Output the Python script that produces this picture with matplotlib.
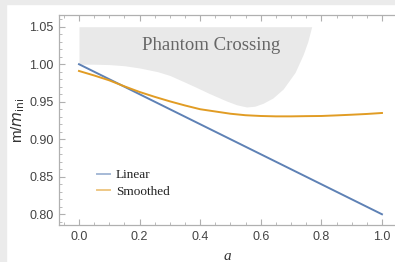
import matplotlib
matplotlib.use("Agg")
import matplotlib.pyplot as plt
from matplotlib.patches import Rectangle
from matplotlib.ticker import MultipleLocator, FormatStrFormatter

# Data
a_linear = [0.0, 1.0]
m_linear = [1.0, 0.8]

a_smooth = [0.0, 0.05, 0.1, 0.15, 0.2, 0.25, 0.3, 0.35, 0.4, 0.45, 0.5,
            0.55, 0.6, 0.65, 0.7, 0.75, 0.8, 0.85, 0.9, 0.95, 1.0]
m_smooth = [0.991, 0.985, 0.9785, 0.9705, 0.963, 0.9565, 0.9505, 0.945, 0.940,
            0.937, 0.934, 0.932, 0.931, 0.9305, 0.9305, 0.9308, 0.931,
            0.9318, 0.9327, 0.9337, 0.935]

a_phantom = [0.0, 0.05, 0.1, 0.15, 0.2, 0.26, 0.3, 0.35, 0.388, 0.43, 0.487,
             0.52, 0.553, 0.58, 0.608, 0.64, 0.674, 0.713, 0.74, 0.755, 0.768]
m_phantom_low = [1.0, 1.0, 0.9995, 0.998, 0.995, 0.990, 0.985, 0.976, 0.969,
                 0.961, 0.951, 0.946, 0.943, 0.944, 0.948, 0.955, 0.967,
                 0.989, 1.013, 1.03, 1.05]
m_phantom_top = 1.05

legend_labels = ["Linear", "Smoothed"]
region_label = "Phantom Crossing"

W, H = 395, 262
fig = plt.figure(figsize=(W / 100, H / 100), dpi=100)
fig.patch.set_facecolor("white")
fig.patches.append(Rectangle((0, 0), 6 / W, 1, transform=fig.transFigure,
                             color="#ebebeb", zorder=0))
fig.patches.append(Rectangle((0, 1 - 4 / H), 1, 4 / H, transform=fig.transFigure,
                             color="#ebebeb", zorder=0))

ax = fig.add_axes([59 / W, 37 / H, (W - 59) / W, 210 / H])
ax.set_xlim(-0.066, 1.043)
ax.set_ylim(0.7857, 1.0656)

ax.fill_between(a_phantom, m_phantom_low, m_phantom_top, color="#e9e9e9",
                lw=0, zorder=1)
ax.text(0.436, 1.0244, region_label, family="Liberation Serif", fontsize=13.5,
        color="#666666", ha="center", va="center", zorder=2)

blue = "#5E81B5"
orange = "#E19C24"
ax.plot(a_linear, m_linear, color=blue, lw=1.4, zorder=3, label=legend_labels[0])
ax.plot(a_smooth, m_smooth, color=orange, lw=1.4, zorder=3, label=legend_labels[1])

leg = ax.legend(loc="center left", bbox_to_anchor=(0.113, 0.198), frameon=False,
                borderpad=0, borderaxespad=0, handlelength=1.0,
                handletextpad=0.45, labelspacing=0.3,
                prop={"family": "Liberation Serif", "size": 9.5})
for lh in leg.get_lines():
    lh.set_alpha(0.55)
for t in leg.get_texts():
    t.set_color("#222222")

spine_c = "#b0b0b0"
for s in ["left", "bottom", "top"]:
    ax.spines[s].set_color(spine_c)
    ax.spines[s].set_linewidth(0.9)
ax.spines["right"].set_visible(False)

ax.xaxis.set_major_locator(MultipleLocator(0.2))
ax.xaxis.set_minor_locator(MultipleLocator(0.05))
ax.yaxis.set_major_locator(MultipleLocator(0.05))
ax.yaxis.set_minor_locator(MultipleLocator(0.01))
ax.xaxis.set_major_formatter(FormatStrFormatter("%.1f"))
ax.yaxis.set_major_formatter(FormatStrFormatter("%.2f"))
ax.tick_params(which="both", direction="in", color=spine_c, top=True,
               right=False, labelcolor="#444444")
ax.tick_params(which="major", length=4, width=0.8, labelsize=9, pad=4)
ax.tick_params(which="minor", length=2.2, width=0.6)
for lab in ax.get_xticklabels() + ax.get_yticklabels():
    lab.set_family("Liberation Sans")

ax.set_xlabel("a", family="Liberation Serif", style="italic", fontsize=11,
              color="#333333", va="center")
ax.xaxis.set_label_coords(0.5, -(257 - 225) / 210)
ax.set_ylabel(r"m/$m_{\mathrm{ini}}$", family="Liberation Sans", fontsize=11,
              color="#333333", va="center")
ax.yaxis.set_label_coords(-(59 - 18) / 336, 0.5)

fig.savefig("out.png", dpi=100)
